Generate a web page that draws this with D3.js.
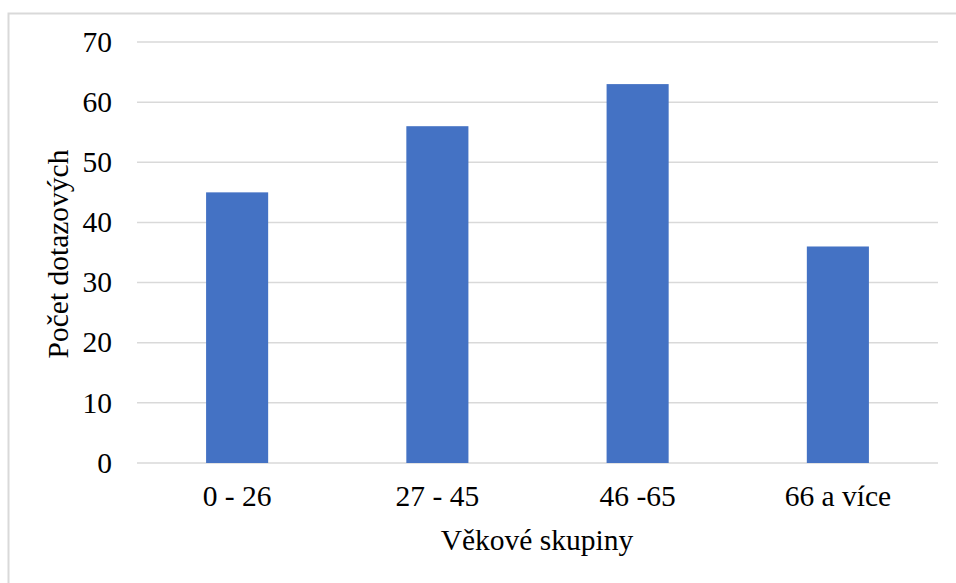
<!DOCTYPE html>
<html>
<head>
<meta charset="utf-8">
<script src="https://cdn.jsdelivr.net/npm/d3@7"></script>
<style>
  body { margin: 0; background: #fff; }
</style>
</head>
<body>
<svg id="chart"></svg>
<script>
// Chart data
const groups = ["0 - 26", "27 - 45", "46 -65", "66 a více"];
const counts = [45, 56, 63, 36];
const yTicks = [0, 10, 20, 30, 40, 50, 60, 70];

const width = 956;
const height = 583;
const margin = { top: 42, right: 18, bottom: 120, left: 137 };
const fontFamily = "'Liberation Serif', 'DejaVu Serif', serif";

const svg = d3.select("#chart")
    .attr("width", width)
    .attr("height", height);

// Outer chart border
svg.append("rect")
    .attr("x", 8.5).attr("y", 13.5)
    .attr("width", 960).attr("height", 600)
    .attr("fill", "none")
    .attr("stroke", "#d9d9d9")
    .attr("stroke-width", 2);

const x = d3.scaleBand()
    .domain(groups)
    .range([margin.left, width - margin.right])
    .paddingInner(0.69)
    .paddingOuter(0.345);

const y = d3.scaleLinear()
    .domain([0, 70])
    .range([height - margin.bottom, margin.top]);

// Gridlines
svg.append("g")
    .selectAll("line").data(yTicks).join("line")
    .attr("x1", margin.left).attr("x2", width - margin.right)
    .attr("y1", d => y(d)).attr("y2", d => y(d))
    .attr("stroke", "#d9d9d9")
    .attr("stroke-width", 1.5);

// helper for text styling
const styleText = sel => sel
    .style("font-family", fontFamily)
    .style("font-size", "29.5px")
    .style("fill", "#000");

// Y axis labels
svg.append("g")
    .selectAll("text").data(yTicks).join("text")
    .attr("x", 112).attr("y", d => y(d))
    .attr("dy", "0.33em")
    .attr("text-anchor", "end")
    .call(styleText)
    .text(d => d);

// Bars
svg.append("g")
    .selectAll("rect").data(counts).join("rect")
    .attr("x", (d, i) => x(groups[i]))
    .attr("y", d => y(d))
    .attr("width", x.bandwidth())
    .attr("height", d => y(0) - y(d))
    .attr("fill", "#4472c4");

// X labels
svg.append("g")
    .selectAll("text").data(groups).join("text")
    .attr("x", d => x(d) + x.bandwidth() / 2)
    .attr("y", 506)
    .attr("text-anchor", "middle")
    .call(styleText)
    .text(d => d);

// Axis titles
svg.append("text")
    .attr("x", 537).attr("y", 550)
    .attr("text-anchor", "middle")
    .call(styleText)
    .text("Věkové skupiny");

svg.append("text")
    .attr("transform", "translate(68,254) rotate(-90)")
    .attr("text-anchor", "middle")
    .call(styleText)
    .text("Počet dotazových");
</script>
</body>
</html>
